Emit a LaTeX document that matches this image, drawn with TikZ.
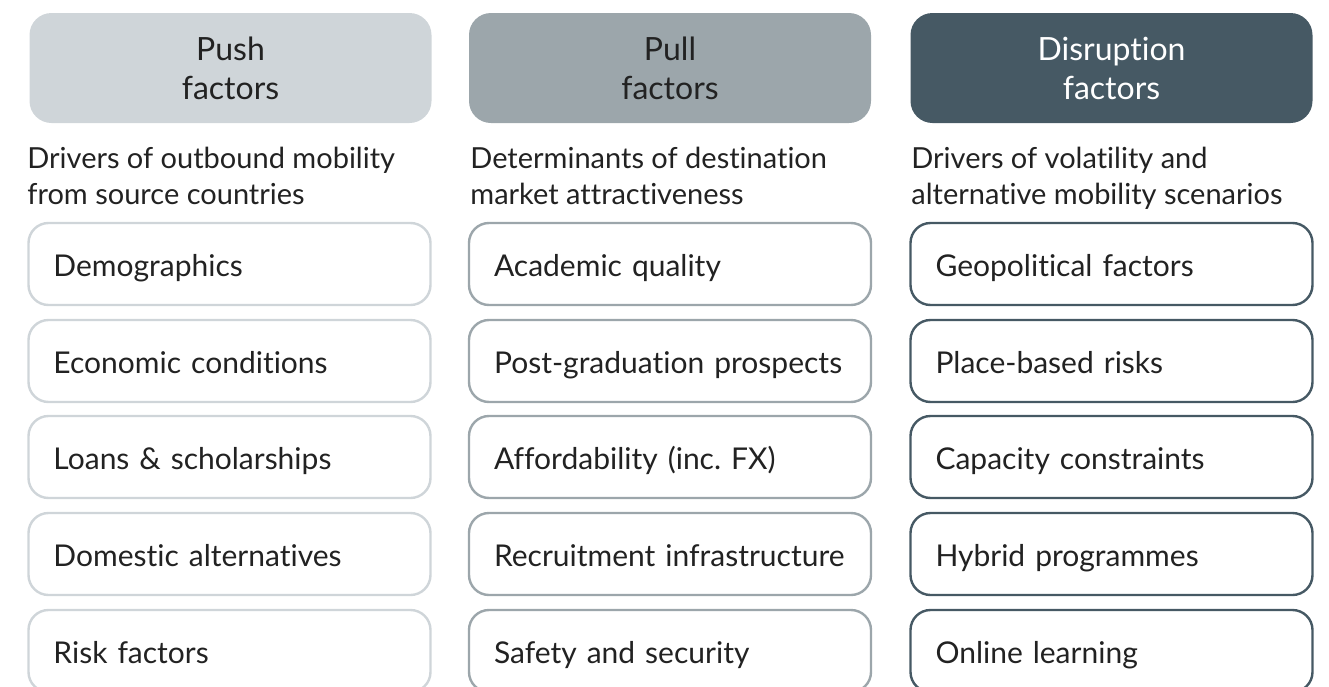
\documentclass[tikz,border=0pt]{standalone}
\usepackage{fontspec}
\setmainfont{Lato}[Ligatures={NoCommon,NoRequired,NoContextual}]
\frenchspacing

\definecolor{pushgrey}{HTML}{CFD5D9}
\definecolor{pullgrey}{HTML}{9CA6AB}
\definecolor{slate}{HTML}{465964}
\definecolor{ink}{HTML}{222222}

\tikzset{
  head/.style={rounded corners=11pt, minimum width=201pt, minimum height=55pt,
    align=center, inner sep=0pt, text=ink,
    font=\fontsize{16}{19.5}\selectfont},
  blurb/.style={anchor=north west, align=left, inner sep=0pt, text=ink,
    font=\fontsize{14.5}{18}\selectfont},
  factor/.style={draw, line width=1.2pt, rounded corners=10pt, fill=white,
    text width=176pt, inner xsep=12.5pt, inner ysep=0pt, minimum height=41pt,
    text height=13pt, text depth=1pt,
    align=left, text=ink, font=\fontsize{15}{17}\selectfont},
  push/.style={factor, draw=pushgrey},
  pull/.style={factor, draw=pullgrey},
  disr/.style={factor, draw=slate},
}

\begin{document}
\begin{tikzpicture}[x=0.5pt, y=-0.5pt]
    \useasboundingbox (0,0) rectangle (1329,686);
    \clip (0,0) rectangle (1329,686);

    % column headings
    \node[head, fill=pushgrey] (pushhead) at (230.5,68) {Push\\factors};
    \node[head, fill=pullgrey] (pullhead) at (670,68) {Pull\\factors};
    \node[head, fill=slate, text=white] (disrhead) at (1111.5,68) {Disruption\\factors};

    % short descriptions under the headings
    \node[blurb] (pushtext) at (27,147) {Drivers of outbound mobility\\from source countries};
    \node[blurb] (pulltext) at (470,147) {Determinants of destination\\market attractiveness};
    \node[blurb] (disrtext) at (911,147) {Drivers of volatility and\\alternative mobility scenarios};

    % push factors
    \node[push] (demog) at (229.5,264) {Demographics};
    \node[push] (econ) at (229.5,361) {Economic conditions};
    \node[push] (loans) at (229.5,457) {Loans \& scholarships};
    \node[push] (domestic) at (229.5,554) {Domestic alternatives};
    \node[push] (risk) at (229.5,651) {Risk factors};

    % pull factors
    \node[pull] (quality) at (670,264) {Academic quality};
    \node[pull] (postgrad) at (670,361) {Post-graduation prospects};
    \node[pull] (afford) at (670,457) {Affordability (inc. FX)};
    \node[pull] (recruit) at (670,554) {Recruitment infrastructure};
    \node[pull] (safety) at (670,651) {Safety and security};

    % disruption factors
    \node[disr] (geopol) at (1111.5,264) {Geopolitical factors};
    \node[disr] (place) at (1111.5,361) {Place-based risks};
    \node[disr] (capacity) at (1111.5,457) {Capacity constraints};
    \node[disr] (hybrid) at (1111.5,554) {Hybrid programmes};
    \node[disr] (online) at (1111.5,651) {Online learning};
\end{tikzpicture}
\end{document}
